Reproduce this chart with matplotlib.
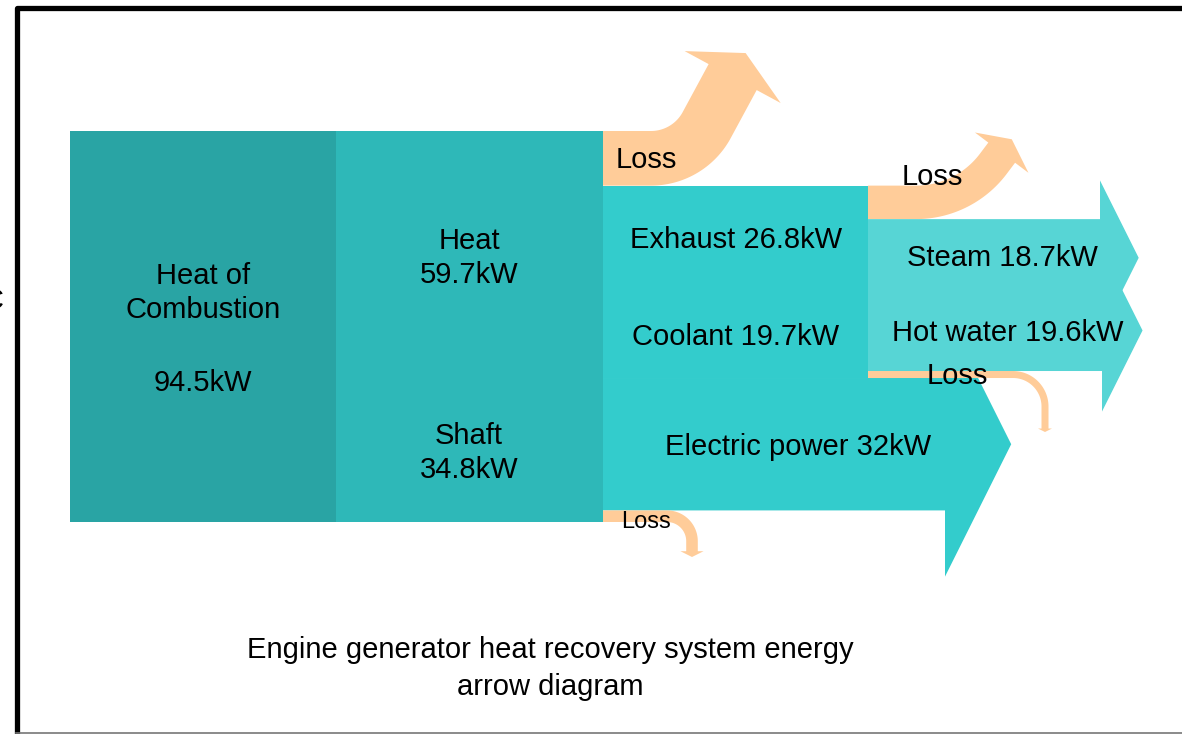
import numpy as np
import matplotlib
matplotlib.use('Agg')
import matplotlib.pyplot as plt
from matplotlib.patches import Polygon, Rectangle

plt.rcParams['font.family'] = ['Liberation Sans', 'DejaVu Sans']

# energy flows in kW
combustion = 94.5
heat = 59.7
shaft = 34.8
exhaust = 26.8
coolant = 19.7
electric = 32
steam = 18.7
hot_water = 19.6

heat_loss = heat - exhaust - coolant
exhaust_loss = exhaust - steam
coolant_loss = coolant - hot_water
shaft_loss = shaft - electric

# colours
C_COMB = '#29a4a4'
C_HEAT = '#2eb8b8'
C_MAIN = '#33cccc'
C_RECOV = '#57d5d5'
C_LOSS = '#ffcc99'

# layout in pixels
TOP = 131
BOTTOM = 522
K = (BOTTOM - TOP) / combustion   # px per kW


def h(v, minimum=0):
    return max(v * K, minimum)


def straight_arrow(ax, x0, x1, y0, y1, color, z=2):
    # body from x0 to x1, head with barbs as tall as the body
    w = y1 - y0
    yc = (y0 + y1) / 2
    pts = [(x0, y0), (x1, y0), (x1, yc - w), (x1 + w / 2, yc),
           (x1, yc + w), (x1, y1), (x0, y1)]
    ax.add_patch(Polygon(pts, closed=True, fc=color, ec='none', zorder=z))


def bend_arrow(ax, x0, y_top, y_bot, x_turn, radius, angle, run, up=True, z=3):
    # horizontal band that bends up (or down) into an arrow
    w = y_bot - y_top
    yc = (y_top + y_bot) / 2
    s = -1 if up else 1
    phi = np.radians(angle)
    a = np.linspace(0, phi, 60)

    def edge(r):
        return np.column_stack([x_turn + r * np.sin(a), yc + s * (radius - r * np.cos(a))])

    inner = edge(radius - w / 2)
    outer = edge(radius + w / 2)
    d = np.array([np.cos(phi), s * np.sin(phi)])
    nrm = np.array([np.sin(phi), -s * np.cos(phi)])
    c = np.array([x_turn + radius * np.sin(phi), yc + s * (radius - radius * np.cos(phi))]) + run * d
    head = [c - w / 2 * nrm, c - w * nrm, c + w / 2 * d, c + w * nrm, c + w / 2 * nrm]
    pts = np.vstack([[inner[0][0] - (x_turn - x0), inner[0][1]], inner, head,
                     outer[::-1], [outer[0][0] - (x_turn - x0), outer[0][1]]])
    ax.add_patch(Polygon(pts, closed=True, fc=C_LOSS, ec='none', zorder=z))


fig = plt.figure(figsize=(11.82, 7.34), dpi=100)
ax = fig.add_axes([0, 0, 1, 1])
ax.set_xlim(0, 1182)
ax.set_ylim(734, 0)
ax.axis('off')

# stage 1 and 2 blocks
ax.add_patch(Rectangle((70, TOP), 266, h(combustion), fc=C_COMB, ec='none', zorder=2))
ax.add_patch(Rectangle((336, TOP), 267, h(heat + shaft), fc=C_HEAT, ec='none', zorder=2))

# stage 3
y_ex = TOP + h(heat_loss)
y_co = y_ex + h(exhaust)
y_el = y_co + h(coolant)
y_el_bot = y_el + h(electric)
bend_arrow(ax, 603, TOP, y_ex, 651, 36 + h(heat_loss) / 2, 61.6, 54.6)
ax.add_patch(Rectangle((603, y_ex), 265, y_el - y_ex, fc=C_MAIN, ec='none', zorder=2))
straight_arrow(ax, 603, 945, y_el, y_el_bot, C_MAIN, z=2)
bend_arrow(ax, 603, y_el_bot, y_el_bot + h(shaft_loss), 667, 25, 90, 10, up=False)

# stage 4
y_st = y_ex + h(exhaust_loss)
bend_arrow(ax, 868, y_ex, y_st, 916, 80 + h(exhaust_loss) / 2, 53, 14)
straight_arrow(ax, 868, 1100, y_st, y_st + h(steam), C_RECOV, z=3)
cl = h(coolant_loss, 7)
straight_arrow(ax, 868, 1102, y_el - cl - h(hot_water), y_el - cl, C_RECOV, z=4)
bend_arrow(ax, 868, y_el - cl, y_el, 1013, 32, 90, 22, up=False, z=5)

# labels (y nudged to sit like the reference)
fs = 21
dy = 3
txt = dict(fontsize=fs, color='black', zorder=10, va='center')
labels = [
    (203, 273, 'Heat of', 'center'),
    (203, 307, 'Combustion', 'center'),
    (203, 380, f'{combustion}kW', 'center'),
    (469, 238, 'Heat', 'center'),
    (469, 272, f'{heat}kW', 'center'),
    (469, 433, 'Shaft', 'center'),
    (469, 467, f'{shaft}kW', 'center'),
    (616, 157, 'Loss', 'left'),
    (736, 237, f'Exhaust {exhaust}kW', 'center'),
    (736, 334, f'Coolant {coolant}kW', 'center'),
    (798, 444, f'Electric power {electric}kW', 'center'),
    (902, 174, 'Loss', 'left'),
    (1002, 255, f'Steam {steam}kW', 'center'),
    (1008, 330, f'Hot water {hot_water}kW', 'center'),
    (927, 373, 'Loss', 'left'),
    (550, 647, 'Engine generator heat recovery system energy', 'center'),
    (550, 684, 'arrow diagram', 'center'),
    (4, 298, 'C', 'right'),
]
for x, y, s, ha in labels:
    ax.text(x, y + dy, s, ha=ha, **txt)
ax.text(621, 520 + 2, 'Loss', ha='left', fontsize=17, va='center', zorder=10)

# frame
ax.plot([16.5, 16.5, 1182], [734, 7.5, 7.5], color='black', lw=3.8,
        solid_joinstyle='round', zorder=11)
ax.plot([16, 1182], [732.5, 732.5], color='#777777', lw=1.2, zorder=11)

fig.savefig('out.png', dpi=100)
